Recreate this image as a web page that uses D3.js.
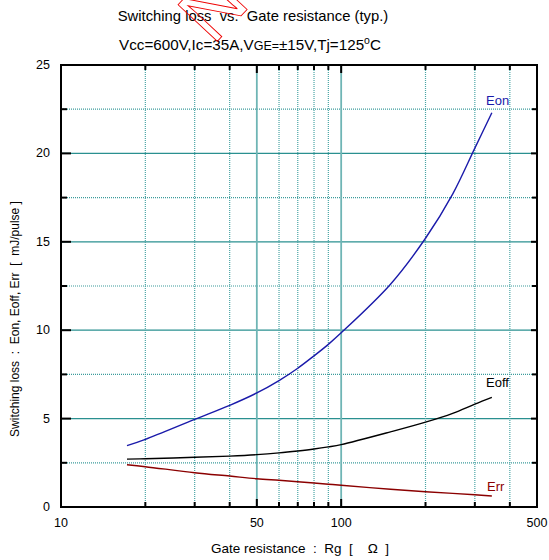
<!DOCTYPE html>
<html><head><meta charset="utf-8">
<script src="https://cdn.jsdelivr.net/npm/d3@7"></script>
<style>body{margin:0;background:#fff}svg{display:block;font-family:"Liberation Sans",Arial,sans-serif}</style>
</head><body>
<script>
const rg   = [17.2, 20, 30, 40, 50, 60, 70, 80, 90, 100, 150, 200, 250, 300, 345];
const eon  = [3.47, 3.83, 4.96, 5.75, 6.45, 7.15, 7.85, 8.55, 9.2, 9.85, 12.6, 15.2, 17.7, 20.3, 22.3];
const eoff = [2.71, 2.73, 2.81, 2.88, 2.96, 3.06, 3.17, 3.28, 3.40, 3.53, 4.25, 4.80, 5.30, 5.82, 6.20];
const err  = [2.39, 2.28, 1.94, 1.75, 1.60, 1.51, 1.43, 1.36, 1.29, 1.23, 1.00, 0.86, 0.77, 0.69, 0.62];
const xLabels = [10, 50, 100, 500];
const xGridDotted = [20, 30, 40, 60, 70, 80, 90, 200, 300, 400];
const xGridSolid = [50, 100];
const yMajor = [0, 5, 10, 15, 20, 25];
const yMinor = [2.5, 7.5, 12.5, 17.5, 22.5];

const W = 549, H = 560;
const svg = d3.select("body").append("svg").attr("width", W).attr("height", H);
const x = d3.scaleLog().domain([10, 500]).range([61, 537]);
const y = d3.scaleLinear().domain([0, 25]).range([507, 65]);
const [x0, x1] = x.range(), [y0, y1] = y.range();

// grid
const g = svg.append("g");
g.selectAll(".hmin").data(yMinor).join("line")
  .attr("x1", x0).attr("x2", x1).attr("y1", d => y(d)).attr("y2", d => y(d))
  .attr("stroke", "#3c9c9c").attr("stroke-width", 1.2).attr("stroke-dasharray", "1,1");
g.selectAll(".hmaj").data(yMajor.filter(d => d > 0 && d < 25)).join("line")
  .attr("x1", x0).attr("x2", x1).attr("y1", d => y(d)).attr("y2", d => y(d))
  .attr("stroke", "#2a9090").attr("stroke-width", 1.3);
g.selectAll(".vmin").data(xGridDotted).join("line")
  .attr("x1", d => x(d)).attr("x2", d => x(d)).attr("y1", y0).attr("y2", y1)
  .attr("stroke", "#4aa5a5").attr("stroke-width", 1.2).attr("stroke-dasharray", "1,1");
g.selectAll(".vmaj").data(xGridSolid).join("line")
  .attr("x1", d => x(d)).attr("x2", d => x(d)).attr("y1", y0).attr("y2", y1)
  .attr("stroke", "#6fb5b5").attr("stroke-width", 1.8);

// axes (ticks inward)
const ax = svg.append("g").attr("stroke", "#000");
const allX = xGridDotted.concat(xGridSolid);
allX.forEach(v => {
  const L = xGridSolid.includes(v) ? 8 : 5;
  ax.append("line").attr("x1", x(v)).attr("x2", x(v)).attr("y1", y0).attr("y2", y0 - L).attr("stroke-width", 2);
  ax.append("line").attr("x1", x(v)).attr("x2", x(v)).attr("y1", y1).attr("y2", y1 + L).attr("stroke-width", 2);
});
yMajor.forEach(v => {
  ax.append("line").attr("x1", x0).attr("x2", x0 + 10).attr("y1", y(v)).attr("y2", y(v)).attr("stroke-width", 2);
  ax.append("line").attr("x1", x1).attr("x2", x1 - 6).attr("y1", y(v)).attr("y2", y(v)).attr("stroke-width", 2);
});
yMinor.forEach(v => {
  ax.append("line").attr("x1", x0).attr("x2", x0 + 6).attr("y1", y(v)).attr("y2", y(v)).attr("stroke-width", 2);
  ax.append("line").attr("x1", x1).attr("x2", x1 - 5).attr("y1", y(v)).attr("y2", y(v)).attr("stroke-width", 2);
});
svg.append("rect").attr("x", x0).attr("y", y1).attr("width", x1 - x0).attr("height", y0 - y1)
  .attr("fill", "none").attr("stroke", "#000").attr("stroke-width", 2);

// tick labels
svg.selectAll(".yl").data(yMajor).join("text")
  .attr("x", 50).attr("y", d => y(d) + 4).attr("text-anchor", "end")
  .attr("font-size", 12.5).text(d => d);
svg.selectAll(".xl").data(xLabels).join("text")
  .attr("x", d => x(d)).attr("y", 527).attr("text-anchor", "middle")
  .attr("font-size", 12.5).text(d => d);

// curves
const line = d3.line().x(d => x(d[0])).y(d => y(d[1])).curve(d3.curveCatmullRom.alpha(0.5));
const series = [
  {name: "Eon", vals: eon, color: "#1a1aaa"},
  {name: "Eoff", vals: eoff, color: "#000"},
  {name: "Err", vals: err, color: "#8b0000"}
];
series.forEach(s => {
  svg.append("path").attr("d", line(rg.map((r, i) => [r, s.vals[i]])))
    .attr("fill", "none").attr("stroke", s.color).attr("stroke-width", 1.4);
});
svg.append("text").attr("x", 486).attr("y", 105).attr("font-size", 13).attr("fill", "#1a1aaa").text("Eon");
svg.append("text").attr("x", 486).attr("y", 387).attr("font-size", 13).attr("fill", "#000").text("Eoff");
svg.append("text").attr("x", 487).attr("y", 491).attr("font-size", 13).attr("fill", "#8b0000").text("Err");

// titles
svg.append("text").attr("x", 253).attr("y", 21).attr("text-anchor", "middle").attr("font-size", 14.8)
  .attr("xml:space", "preserve").text("Switching loss  vs.  Gate resistance (typ.)");
const t2 = svg.append("text").attr("x", 250).attr("y", 50).attr("text-anchor", "middle").attr("font-size", 15.2);
t2.append("tspan").text("Vcc=600V,Ic=35A,V");
t2.append("tspan").attr("font-size", 12.5).text("GE=");
t2.append("tspan").text("±15V,Tj=125");
t2.append("tspan").attr("font-size", 10.5).attr("dy", -6).text("o");
t2.append("tspan").attr("dy", 6).text("C");

// axis titles
svg.append("text").attr("x", 300).attr("y", 553).attr("text-anchor", "middle").attr("font-size", 13.5)
  .attr("xml:space", "preserve").text("Gate resistance  :  Rg  [    Ω  ]");
svg.append("text").attr("transform", "translate(19,319) rotate(-90)").attr("text-anchor", "middle")
  .attr("font-size", 12).attr("xml:space", "preserve")
  .text("Switching loss  :  Eon, Eoff, Err  [  mJ/pulse ]");

// watermark
svg.append("text").attr("transform", "translate(213,46) rotate(-47)")
  .attr("font-size", 78).attr("fill", "none").attr("stroke", "#e00").attr("stroke-width", 0.9)
  .text("NOT");
</script>
</body></html>
